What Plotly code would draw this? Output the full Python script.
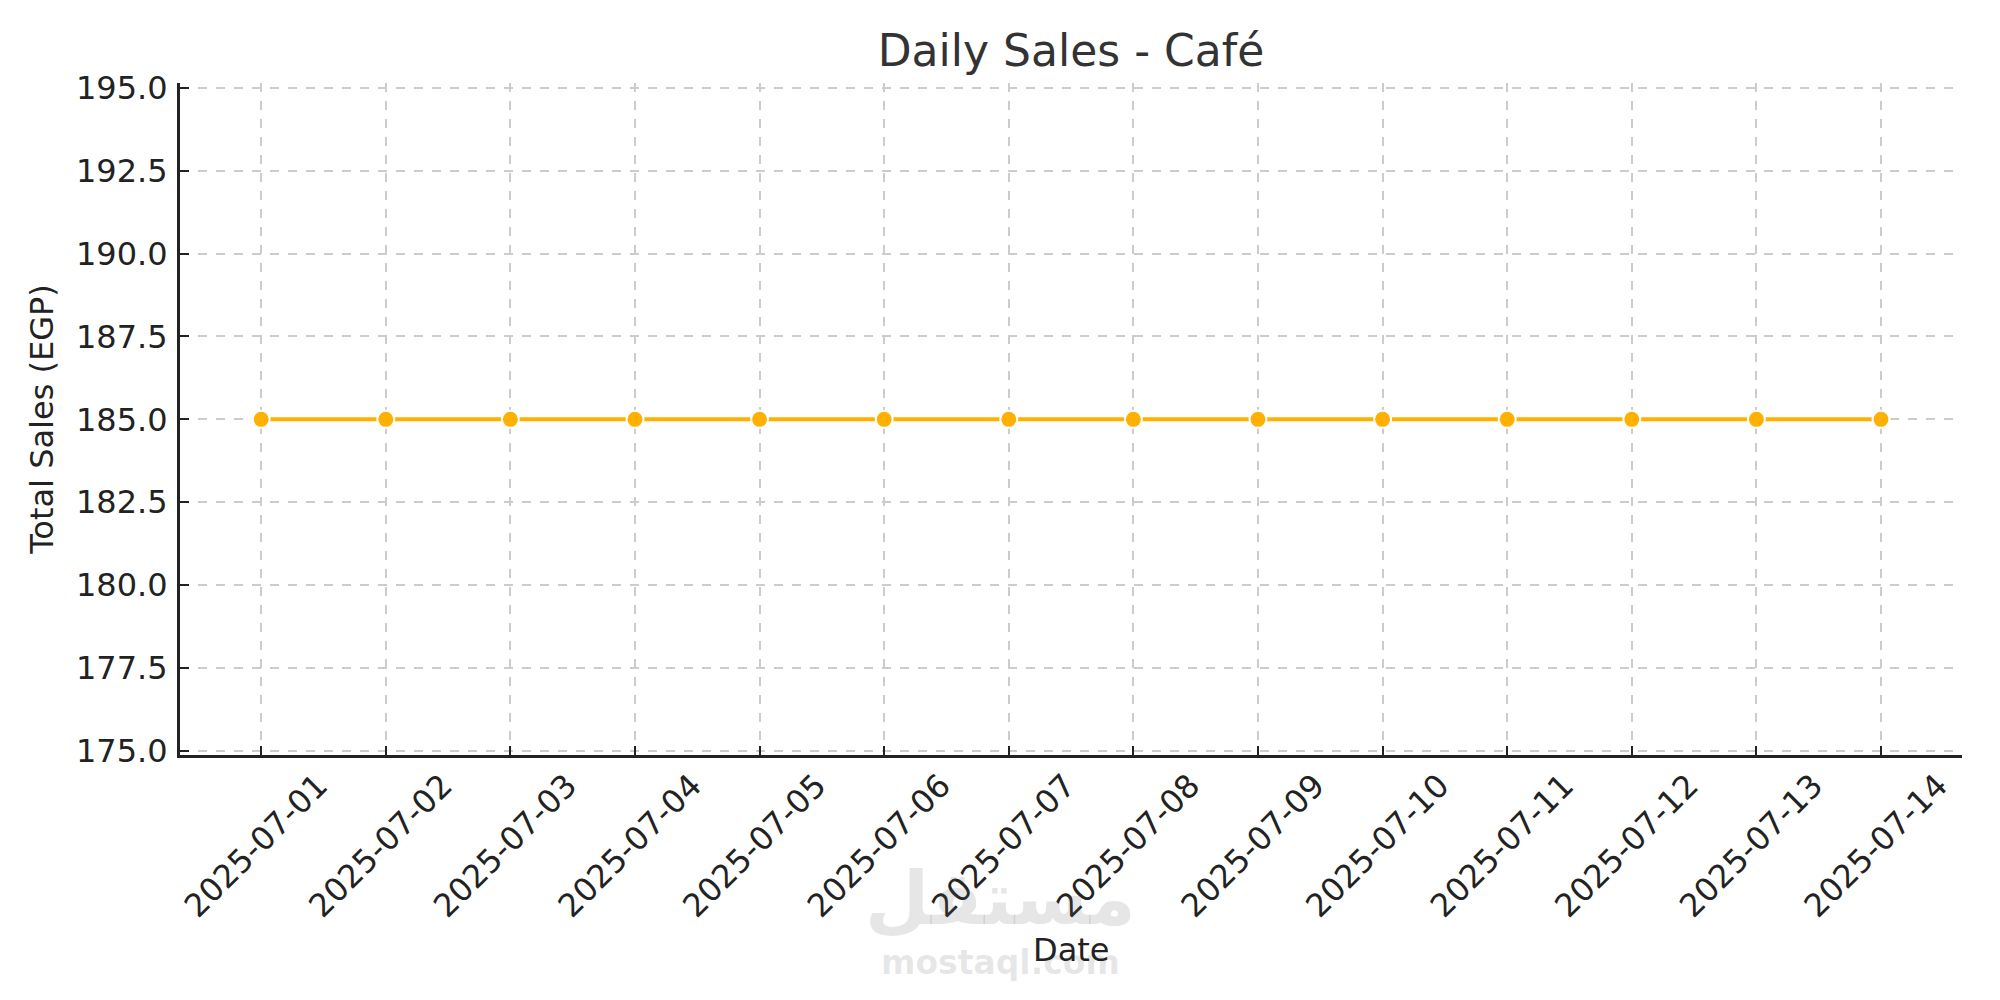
import plotly.graph_objects as go

dates = ["2025-07-01", "2025-07-02", "2025-07-03", "2025-07-04", "2025-07-05",
         "2025-07-06", "2025-07-07", "2025-07-08", "2025-07-09", "2025-07-10",
         "2025-07-11", "2025-07-12", "2025-07-13", "2025-07-14"]
sales = [185, 185, 185, 185, 185, 185, 185, 185, 185, 185, 185, 185, 185, 185]
y_ticks = [175.0, 177.5, 180.0, 182.5, 185.0, 187.5, 190.0, 192.5, 195.0]

FONT = "DejaVu Sans"
GRID = "#cccccc"
AXIS = "#222222"

fig = go.Figure()
fig.add_trace(go.Scatter(
    x=dates, y=sales, mode="lines+markers",
    line=dict(color="#FFB000", width=4),
    marker=dict(size=17, color="#FFB000", line=dict(color="white", width=2)),
    showlegend=False,
))

fig.update_layout(
    width=2000, height=1000,
    paper_bgcolor="white", plot_bgcolor="white",
    margin=dict(l=172, r=46, t=75, b=253),
    font=dict(family=FONT, size=32, color=AXIS),
    title=dict(text="Daily Sales - Café", x=0.5315, xanchor="center",
               y=0.942, yanchor="bottom", yref="container",
               font=dict(family=FONT, size=44, color="#333333")),
)

fig.update_xaxes(
    type="date",
    range=["2025-06-30 08:22", "2025-07-14 15:36"],
    tickvals=dates, ticktext=dates,
    tickangle=-45,
    ticks="inside", ticklen=9, tickwidth=2, tickcolor=AXIS,
    showline=True, linecolor=AXIS, linewidth=3,
    showgrid=True, gridcolor=GRID, gridwidth=1.5, griddash="dash",
    zeroline=False,
    ticklabelshift=57, ticklabelstandoff=-4,
    tickfont=dict(family=FONT, size=32, color=AXIS),
)

fig.update_yaxes(
    range=[174.87, 195.15],
    tickvals=y_ticks, tickformat=".1f",
    ticks="inside", ticklen=9, tickwidth=2, tickcolor=AXIS,
    showline=True, linecolor=AXIS, linewidth=3,
    showgrid=True, gridcolor=GRID, gridwidth=1.5, griddash="dash",
    zeroline=False,
    ticklabelstandoff=3,
    tickfont=dict(family=FONT, size=32, color=AXIS),
    title=dict(text="Total Sales (EGP)", standoff=13,
               font=dict(family=FONT, size=32, color=AXIS)),
)

# watermark
fig.add_annotation(text="<b>مستقل</b>", xref="paper", yref="paper",
                   x=(1000 - 180) / 1782, y=-(898 - 755) / 672,
                   xanchor="center", yanchor="middle", showarrow=False,
                   font=dict(family=FONT, size=74, color="rgba(100,100,100,0.16)"))
fig.add_annotation(text="<b>mostaql.com</b>", xref="paper", yref="paper",
                   x=(1000 - 180) / 1782, y=-(962 - 755) / 672,
                   xanchor="center", yanchor="middle", showarrow=False,
                   font=dict(family=FONT, size=33, color="rgba(100,100,100,0.16)"))
# x axis title (drawn above watermark)
fig.add_annotation(text="Date", xref="paper", yref="paper",
                   x=0.5, y=-(950 - 755) / 672,
                   xanchor="center", yanchor="middle", showarrow=False,
                   font=dict(family=FONT, size=32, color=AXIS))

fig.write_html("out.html")
